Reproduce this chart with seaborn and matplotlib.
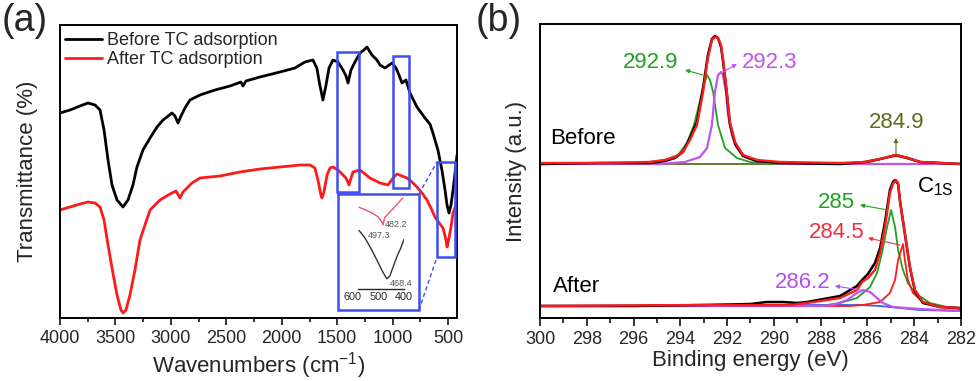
import matplotlib
matplotlib.use("Agg")
import matplotlib.pyplot as plt
from matplotlib.patches import Rectangle
from matplotlib.ticker import MultipleLocator
import numpy as np
import pandas as pd
import seaborn as sns

# ---------------- Panel (a): FTIR ----------------
before_wn = [4000, 3910, 3820, 3748, 3684, 3639, 3603, 3567, 3531, 3486,
             3432, 3387, 3342, 3306, 3252, 3188, 3125, 3071, 2990, 2963,
             2936, 2909, 2873, 2828, 2738, 2602, 2467, 2368, 2350, 2323,
             2197, 2016, 1881, 1791, 1719, 1684, 1657, 1629, 1601, 1574,
             1538, 1493, 1448, 1421, 1403, 1376, 1340, 1295, 1259, 1232,
             1187, 1142, 1114, 1069, 1006, 970, 943, 916, 880, 844,
             781, 709, 664, 637, 592, 556, 528, 510, 492, 474,
             456, 429, 420]
before_T = [205, 208, 212, 215, 213, 208, 188, 158, 133, 118,
            111, 118, 133, 151, 168, 180, 191, 198, 205, 202,
            195, 202, 210, 218, 223, 228, 232, 236, 232, 237,
            241, 246, 250, 256, 258, 250, 233, 218, 233, 250,
            258, 256, 248, 242, 235, 248, 256, 265, 268, 271,
            263, 258, 253, 250, 255, 250, 243, 235, 238, 225,
            211, 200, 194, 185, 168, 148, 128, 113, 105, 113,
            128, 153, 163]

after_wn = [4000, 3910, 3820, 3748, 3684, 3639, 3603, 3567, 3531, 3486,
            3450, 3432, 3405, 3369, 3324, 3279, 3234, 3188, 3098, 3008,
            2954, 2918, 2891, 2855, 2810, 2738, 2557, 2377, 2197, 2016,
            1836, 1746, 1701, 1674, 1647, 1638, 1620, 1592, 1565, 1538,
            1493, 1448, 1421, 1394, 1376, 1358, 1295, 1250, 1205, 1114,
            1042, 997, 961, 916, 871, 826, 781, 736, 691, 655,
            619, 574, 546, 519, 510, 492, 474, 456, 429, 420]
after_T = [108, 111, 114, 116, 115, 111, 98, 73, 50, 23,
           8, 5, 8, 23, 48, 78, 93, 108, 118, 124,
           127, 120, 126, 130, 135, 140, 142, 146, 149, 151,
           153, 153, 150, 138, 123, 120, 126, 143, 150, 151,
           148, 143, 140, 133, 140, 146, 148, 144, 140, 135,
           133, 140, 144, 142, 140, 136, 131, 125, 118, 110,
           101, 94, 90, 78, 71, 80, 91, 105, 113, 118]

# highlighted regions (x1, x2, y1, y2)
boxes = [(1502, 1304, 126, 266), (997, 853, 130, 262), (601, 438, 61, 156)]
inset_box = (1493, 763, 8, 124)

# inset (600-400 cm-1 zoom)
ins_after_x = [576, 533, 502, 486, 482, 475, 447, 424, 404]
ins_after_y = [88, 83, 78, 72, 69, 77, 85, 92, 98]
ins_before_x = [576, 553, 526, 502, 482, 467, 455, 439, 424, 412, 400]
ins_before_y = [63, 55, 42, 29, 18, 11, 14, 26, 37, 44, 53]
ins_ticks = [600, 500, 400]

# ---------------- Panel (b): XPS C1s ----------------
b_env_x = [300.00, 297.43, 295.30, 294.66, 294.23, 293.89, 293.59, 293.29, 293.03, 292.82,
           292.65, 292.52, 292.39, 292.26, 292.18, 292.01, 291.88, 291.66, 291.32, 290.72,
           289.74, 287.17, 286.11, 285.46, 284.78, 284.27, 283.75, 282.00]
b_env_y = [155, 155, 156, 158, 161, 166, 178, 193, 226, 260,
           278, 281, 280, 273, 260, 226, 196, 176, 163, 158,
           156, 155, 156, 159, 163, 160, 156, 154]
b_raw_y = [154, 155, 155, 157, 160, 166, 180, 196, 230, 263,
           279, 282, 280, 271, 258, 224, 194, 174, 162, 157,
           155, 154, 156, 159, 163, 160, 156, 154]
b_g_x = [300.00, 295.72, 294.66, 294.10, 293.72, 293.42, 293.20, 293.03, 292.86, 292.73,
         292.60, 292.39, 292.09, 291.58, 291.02, 290.17, 282.00]
b_g_y = [154, 155, 158, 163, 175, 193, 213, 230, 243, 238,
         226, 193, 170, 160, 156, 154, 154]
b_p_x = [300.00, 294.87, 293.80, 293.16, 292.86, 292.65, 292.52, 292.39, 292.26, 292.18,
         292.05, 291.96, 291.79, 291.58, 291.15, 290.59, 289.31, 282.00]
b_p_y = [154, 154, 156, 161, 170, 193, 226, 243, 246, 243,
         226, 203, 183, 170, 160, 156, 154, 154]
b_o_x = [300.00, 286.75, 285.89, 285.25, 284.78, 284.40, 283.75, 282.90, 282.00]
b_o_y = [154, 154, 156, 160, 162, 160, 156, 154, 154]

a_env_x = [300.00, 293.16, 289.31, 288.58, 287.17, 286.45, 286.23, 285.98, 285.68, 285.46,
           285.25, 285.04, 284.91, 284.78, 284.69, 284.61, 284.40, 284.18, 283.97, 283.63,
           282.90, 282.04]
a_env_y = [12, 13, 13, 15, 20, 28, 36, 40, 48, 65,
           91, 125, 134, 138, 135, 118, 85, 51, 28, 16,
           11, 10]
a_raw_x = [300.00, 296.00, 293.00, 291.00, 290.30, 289.60, 289.00, 288.58, 287.17, 286.45,
           286.23, 285.98, 285.68, 285.46, 285.25, 285.04, 284.91, 284.82, 284.69, 284.61,
           284.40, 284.18, 283.97, 283.63, 282.90, 282.04]
a_raw_y = [12, 12, 13, 14, 16, 16, 15, 16, 22, 32,
           38, 44, 55, 70, 96, 128, 136, 138, 134, 117,
           84, 50, 27, 15, 11, 10]
a_g_x = [300.00, 288.03, 287.17, 286.45, 285.89, 285.59, 285.38, 285.16, 284.99, 284.82,
         284.69, 284.48, 284.27, 283.97, 283.33, 282.60, 282.00]
a_g_y = [12, 12, 15, 20, 31, 45, 65, 91, 108, 91,
         68, 48, 35, 25, 15, 11, 9]
a_r_x = [300.00, 286.75, 286.19, 285.46, 285.04, 284.82, 284.69, 284.48, 284.40, 284.27,
         284.05, 283.63, 282.90, 282.00]
a_r_y = [12, 12, 13, 16, 25, 38, 58, 74, 58, 38,
         25, 16, 11, 9]
a_p_x = [300.00, 288.03, 287.47, 286.87, 286.45, 286.19, 285.89, 285.59, 285.34, 284.91,
         283.75, 282.00]
a_p_y = [12, 12, 13, 18, 25, 28, 26, 20, 15, 11, 9, 7]
a_bl_x = [300.00, 288.03, 286.32, 285.46, 284.61, 283.75, 282.00]
a_bl_y = [12, 13, 13, 12, 10, 8, 7]

xps_ticks = list(range(300, 281, -2))

# ---------------- style ----------------
sns.set_theme(style="ticks")
plt.rcParams["font.family"] = ["Liberation Sans", "DejaVu Sans"]
plt.rcParams["mathtext.default"] = "regular"
plt.rcParams["axes.linewidth"] = 1.4

GREEN = "#22a022"
PURPLE = "#bf55ec"
RED = "#ff1a1a"
OLIVE = "#5c6e1e"
BLUE = "#3a5fe0"
BOX = "#3d4ff0"

fig = plt.figure(figsize=(9.8, 3.81), dpi=100)
ax1 = fig.add_axes([60 / 980, 63 / 381, 397 / 980, 293 / 381])
ax2 = fig.add_axes([540 / 980, 63 / 381, 421 / 980, 294 / 381])


def line(ax, x, y, color, lw, label=None, z=2):
    df = pd.DataFrame({"x": x, "y": y})
    sns.lineplot(data=df, x="x", y="y", color=color, lw=lw, ax=ax, label=label,
                 estimator=None, sort=False, zorder=z, legend=False)


# ---- panel a ----
line(ax1, before_wn, before_T, "black", 2.0, "Before TC adsorption")
line(ax1, after_wn, after_T, RED, 2.0, "After TC adsorption")
ax1.set_xlim(4000, 420)
ax1.set_ylim(0, 293)
ax1.set_xticks(list(range(4000, 499, -500)))
ax1.xaxis.set_minor_locator(MultipleLocator(250))
ax1.set_yticks([])
ax1.tick_params(axis="x", which="major", direction="out", length=5, width=1.3,
                labelsize=13, pad=3.5, bottom=True)
ax1.tick_params(axis="x", which="minor", direction="out", length=3, width=1.3, bottom=True)
ax1.set_xlabel("Wavenumbers (cm$^{-1}$)", fontsize=16)
ax1.set_ylabel("Transmittance (%)", fontsize=16)
ax1.xaxis.set_label_coords(0.5, -0.11)
ax1.yaxis.set_label_coords(-0.055, 0.5)
for s in ax1.spines.values():
    s.set_color("black")

for (x1, x2, y1, y2) in boxes + [inset_box]:
    ax1.add_patch(Rectangle((min(x1, x2), y1), abs(x1 - x2), y2 - y1, fill=False,
                            edgecolor=BOX, lw=1.8, zorder=3))
ax1.plot([inset_box[1], boxes[2][0]], [inset_box[3], boxes[2][3]], ls=(0, (3, 2)),
         color=BOX, lw=1.0)
ax1.plot([inset_box[1], boxes[2][0]], [inset_box[2], boxes[2][2]], ls=(0, (3, 2)),
         color=BOX, lw=1.0)

h1 = ax1.get_lines()[0]
h2 = ax1.get_lines()[1]
ax1.legend([h1, h2], ["Before TC adsorption", "After TC adsorption"], loc="upper left",
           bbox_to_anchor=(0.0126, 0.975), frameon=False, fontsize=13, handlelength=2.05,
           handletextpad=0.3, labelspacing=0.12, borderpad=0, borderaxespad=0)

axin = ax1.inset_axes([0.738, 0.099, 0.128, 0.317])
axin.patch.set_alpha(0)
axin.plot(ins_after_x, ins_after_y, color="#f05070", lw=1.0)
axin.plot(ins_before_x, ins_before_y, color="#333333", lw=1.0)
axin.set_xlim(600, 400)
axin.set_ylim(0, 100)
for k in ["top", "left", "right"]:
    axin.spines[k].set_visible(False)
axin.spines["bottom"].set_bounds(580, 400)
axin.spines["bottom"].set_linewidth(1.0)
axin.set_xticks(ins_ticks)
axin.set_xticklabels([str(t) for t in ins_ticks])
axin.set_yticks([])
axin.tick_params(axis="x", length=0, labelsize=7.8, pad=2)
axin.text(475, 69, "482.2", fontsize=6.5, color="#555555", va="center", ha="left")
axin.text(541, 58, "497.3", fontsize=6.5, color="#555555", va="center", ha="left")
axin.text(455, 6, "468.4", fontsize=6.5, color="#555555", va="center", ha="left")

# ---- panel b ----
line(ax2, a_bl_x, a_bl_y, BLUE, 1.3)
line(ax2, b_o_x, b_o_y, OLIVE, 1.3)
line(ax2, b_g_x, b_g_y, GREEN, 1.3)
line(ax2, b_p_x, b_p_y, PURPLE, 1.6)
line(ax2, a_g_x, a_g_y, GREEN, 1.3)
line(ax2, a_r_x, a_r_y, RED, 1.3)
line(ax2, a_p_x, a_p_y, PURPLE, 1.6)
line(ax2, b_env_x, b_raw_y, "black", 1.8)
line(ax2, a_raw_x, a_raw_y, "black", 1.8)
line(ax2, b_env_x, b_env_y, RED, 1.7)
line(ax2, a_env_x, a_env_y, RED, 1.7)

ax2.set_xlim(300, 282)
ax2.set_ylim(0, 294)
ax2.set_xticks(xps_ticks)
ax2.xaxis.set_minor_locator(MultipleLocator(1))
ax2.set_yticks([])
ax2.tick_params(axis="x", which="major", direction="out", length=6, width=1.3,
                labelsize=13, pad=3.5, bottom=True)
ax2.tick_params(axis="x", which="minor", direction="out", length=3.5, width=1.3, bottom=True)
ax2.set_xlabel("Binding energy (eV)", fontsize=16)
ax2.set_ylabel("Intensity (a.u.)", fontsize=16)
ax2.xaxis.set_label_coords(0.5, -0.11)
ax2.yaxis.set_label_coords(-0.03, 0.5)
for s in ax2.spines.values():
    s.set_color("black")


def peak_label(ax, text, color, tx, ty, ha, arrow_from, arrow_to):
    ax.text(tx, ty, text, color=color, fontsize=16, ha=ha, va="center")
    ax.annotate("", xy=arrow_to, xytext=arrow_from,
                arrowprops=dict(arrowstyle="-|>", color=color, lw=0.8,
                                mutation_scale=6, shrinkA=0, shrinkB=0))


peak_label(ax2, "292.9", GREEN, 294.10, 255, "right", (293.03, 243), (293.80, 248))
peak_label(ax2, "292.3", PURPLE, 291.36, 256, "left", (292.18, 246), (291.58, 254))
peak_label(ax2, "284.9", OLIVE, 284.74, 195, "center", (284.78, 163), (284.78, 180))
peak_label(ax2, "285", GREEN, 286.53, 116, "right", (285.12, 108), (286.32, 113))
peak_label(ax2, "284.5", "#f03040", 286.11, 85, "right", (284.61, 73), (285.98, 80))
peak_label(ax2, "286.2", "#b050f0", 287.60, 36, "right", (286.32, 28), (287.39, 32))
ax2.text(299.57, 180, "Before", fontsize=16, color="black", ha="left", va="center")
ax2.text(299.44, 31, "After", fontsize=16, color="black", ha="left", va="center")
ax2.text(283.88, 131, "C$_{1S}$", fontsize=16, color="black", ha="left", va="center")

fig.text(2 / 980, 1 - 21 / 381, "(a)", fontsize=27, ha="left", va="center")
fig.text(476 / 980, 1 - 21 / 381, "(b)", fontsize=27, ha="left", va="center")

fig.savefig("out.png", dpi=100)
